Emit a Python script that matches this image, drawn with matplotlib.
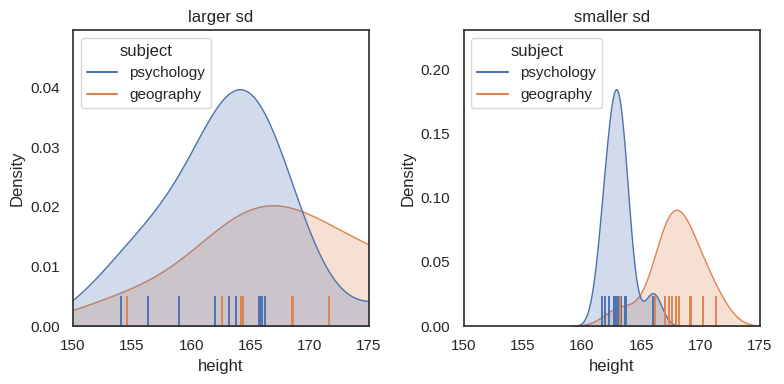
import matplotlib
matplotlib.use("Agg")
import matplotlib.pyplot as plt
import pandas as pd
import seaborn as sns

# heights (a few points sit outside the 150-175 window)
psych_large = [154.1, 156.3, 159.0, 162.0, 163.2, 163.8, 163.8,
               165.7, 165.9, 166.0, 166.2, 179.0]
geog_large = [154.6, 162.6, 164.2, 164.4, 168.5, 168.6, 171.6, 176.5, 179.0]

psych_small = [161.7, 161.9, 162.3, 162.7, 162.8, 162.9, 163.0, 163.3, 163.6, 163.7, 166.0]
geog_small = [163.2, 166.2, 167.0, 167.3, 167.6, 167.9, 168.2, 169.1, 169.2, 170.2, 171.3]

subjects = ["psychology", "geography"]
titles = ["larger sd", "smaller sd"]


def make_frame(psych, geog):
    return pd.DataFrame({
        "height": psych + geog,
        "subject": [subjects[0]] * len(psych) + [subjects[1]] * len(geog),
    })


sns.set_theme(style="white")
plt.rcParams["font.family"] = ["Liberation Sans", "DejaVu Sans"]
fig, axes = plt.subplots(1, 2, figsize=(7.84, 3.84), dpi=100)

frames = [make_frame(psych_large, geog_large), make_frame(psych_small, geog_small)]
for ax, df, title in zip(axes, frames, titles):
    sns.kdeplot(data=df, x="height", hue="subject", hue_order=subjects,
                fill=True, legend=False, ax=ax)
    top = ax.get_ylim()[1] / 1.05 * 1.25
    sns.rugplot(data=df, x="height", hue="subject", hue_order=subjects,
                height=0.1, linewidth=1.4, ax=ax)
    sns.move_legend(ax, "upper left")
    ax.set_xlim(150, 175)
    ax.set_ylim(0, top)
    ax.set_title(title)
    for s in ax.spines.values():
        s.set_color("#333333")

fig.subplots_adjust(left=0.093, right=0.969, top=0.922, bottom=0.151, wspace=0.32)
fig.savefig("out.png")
